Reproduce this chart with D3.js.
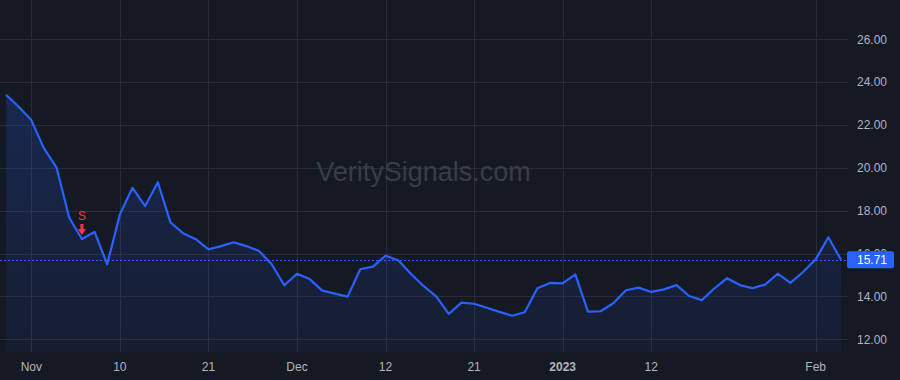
<!DOCTYPE html>
<html>
<head>
<meta charset="utf-8">
<script src="https://cdn.jsdelivr.net/npm/d3@7"></script>
<style>
  html, body { margin: 0; padding: 0; background: #151924; }
  svg { display: block; font-family: "Liberation Sans", Arial, sans-serif; }
</style>
</head>
<body>
<svg id="chart" width="900" height="380"></svg>
<script>
document.addEventListener("DOMContentLoaded", () => {
  "use strict";

  // trading days, Oct 28 2022 .. Feb 3 2023
  const dates = [
    "2022-10-28","2022-10-31",
    "2022-11-01","2022-11-02","2022-11-03","2022-11-04",
    "2022-11-07","2022-11-08","2022-11-09","2022-11-10","2022-11-11",
    "2022-11-14","2022-11-15","2022-11-16","2022-11-17","2022-11-18",
    "2022-11-21","2022-11-22","2022-11-23","2022-11-25",
    "2022-11-28","2022-11-29","2022-11-30",
    "2022-12-01","2022-12-02",
    "2022-12-05","2022-12-06","2022-12-07","2022-12-08","2022-12-09",
    "2022-12-12","2022-12-13","2022-12-14","2022-12-15","2022-12-16",
    "2022-12-19","2022-12-20","2022-12-21","2022-12-22","2022-12-23",
    "2022-12-27","2022-12-28","2022-12-29","2022-12-30",
    "2023-01-03","2023-01-04","2023-01-05","2023-01-06",
    "2023-01-09","2023-01-10","2023-01-11","2023-01-12","2023-01-13",
    "2023-01-17","2023-01-18","2023-01-19","2023-01-20",
    "2023-01-23","2023-01-24","2023-01-25","2023-01-26","2023-01-27",
    "2023-01-30","2023-01-31",
    "2023-02-01","2023-02-02","2023-02-03"
  ];

  const closes = [
    23.41, 22.85,
    22.23, 20.91, 20.01, 17.67,
    16.68, 17.01, 15.50, 17.83, 19.07,
    18.22, 19.33, 17.46, 16.95, 16.67,
    16.20, 16.35, 16.53, 16.35,
    16.12, 15.50, 14.52,
    15.06, 14.81,
    14.27, 14.13, 13.99, 15.27, 15.39,
    15.90, 15.69, 15.06, 14.49, 14.00,
    13.19, 13.71, 13.66, 13.47, 13.28,
    13.10, 13.26, 14.38, 14.63,
    14.61, 15.03, 13.29, 13.31,
    13.68, 14.29, 14.41, 14.21, 14.33,
    14.53, 14.02, 13.83, 14.38,
    14.85, 14.53, 14.39, 14.55, 15.06,
    14.63, 15.14,
    15.73, 16.76, 15.71
  ];

  const xTickDates  = ["2022-11-01","2022-11-10","2022-11-21","2022-12-01","2022-12-12","2022-12-21","2023-01-03","2023-01-12","2023-02-01"];
  const xTickLabels = ["Nov","10","21","Dec","12","21","2023","12","Feb"];
  const yTicks      = [12, 14, 16, 18, 20, 22, 24, 26];

  const sellSignals = [{ date: "2022-11-07", label: "S" }];
  const lastPrice   = 15.71;

  const BG = "#151924", GRID = "#282c37", BLUE = "#2962ff", RED = "#f23645", TXT = "#b2b5be";
  const FONT = '"Liberation Sans", Arial, sans-serif';

  const svg = d3.select("#chart");
  const W = 900, H = 380;
  const plotRight = 848, plotBottom = 352;

  const data = dates.map((d, i) => ({ date: d, close: closes[i] }));

  const x = d3.scalePoint().domain(dates).range([6, 841]);
  const y = d3.scaleLinear().domain([12, 26]).range([339.3, 39.3]);

  svg.append("rect").attr("width", W).attr("height", H).attr("fill", BG);

  // grid
  const grid = svg.append("g");
  grid.selectAll("line.h").data(yTicks).join("line")
    .attr("class", "h")
    .attr("x1", 0).attr("x2", plotRight)
    .attr("y1", d => Math.round(y(d)) + 0.5).attr("y2", d => Math.round(y(d)) + 0.5)
    .attr("stroke", GRID);
  grid.selectAll("line.v").data(xTickDates).join("line")
    .attr("class", "v")
    .attr("x1", d => Math.round(x(d)) + 0.5).attr("x2", d => Math.round(x(d)) + 0.5)
    .attr("y1", 0).attr("y2", plotBottom)
    .attr("stroke", GRID);

  // watermark
  svg.append("text")
    .attr("x", 423.5).attr("y", 181)
    .attr("text-anchor", "middle")
    .attr("fill", "#393d49")
    .style("font-family", FONT)
    .style("font-size", "27px")
    .text("VeritySignals.com");

  // area
  const defs = svg.append("defs");
  const grad = defs.append("linearGradient")
    .attr("id", "areaGrad").attr("x1", 0).attr("y1", 0).attr("x2", 0).attr("y2", 1);
  grad.append("stop").attr("offset", "0%").attr("stop-color", BLUE).attr("stop-opacity", 0.2);
  grad.append("stop").attr("offset", "100%").attr("stop-color", BLUE).attr("stop-opacity", 0.06);

  svg.append("path")
    .datum(data)
    .attr("fill", "url(#areaGrad)")
    .attr("d", d3.area().x(d => x(d.date)).y0(plotBottom).y1(d => y(d.close)));

  // last price dashed line
  svg.append("line")
    .attr("x1", 0).attr("x2", plotRight)
    .attr("y1", Math.round(y(lastPrice)) + 0.5).attr("y2", Math.round(y(lastPrice)) + 0.5)
    .attr("stroke", BLUE).attr("stroke-width", 1).attr("stroke-dasharray", "2,2");

  svg.append("path")
    .datum(data)
    .attr("fill", "none")
    .attr("stroke", BLUE)
    .attr("stroke-width", 2.2)
    .attr("stroke-linejoin", "round")
    .attr("d", d3.line().x(d => x(d.date)).y(d => y(d.close)));

  // sell markers
  const sig = svg.selectAll("g.sig").data(sellSignals).join("g")
    .attr("class", "sig")
    .attr("transform", d => {
      const c = closes[dates.indexOf(d.date)];
      return `translate(${x(d.date)},${y(c) - 4})`;
    });
  sig.append("path")
    .attr("d", "M-1.5,-11 L1.5,-11 L1.5,-6 L4,-6 L0,0 L-4,-6 L-1.5,-6 Z")
    .attr("fill", RED);
  sig.append("text")
    .attr("y", -15)
    .attr("text-anchor", "middle")
    .attr("fill", RED)
    .style("font-family", FONT)
    .style("font-size", "12px")
    .text(d => d.label);

  // y axis labels
  svg.append("g")
    .attr("transform", `translate(887,0)`)
    .selectAll("text").data(yTicks).join("text")
    .attr("y", d => y(d))
    .attr("dy", "0.35em")
    .attr("text-anchor", "end")
    .attr("fill", TXT)
    .style("font-size", "12px")
    .text(d => d3.format(".2f")(d));

  // x axis labels
  svg.append("g")
    .selectAll("text").data(xTickDates).join("text")
    .attr("x", d => x(d))
    .attr("y", 367)
    .attr("dy", "0.35em")
    .attr("text-anchor", "middle")
    .attr("fill", TXT)
    .style("font-size", "12px")
    .style("font-weight", (d, i) => xTickLabels[i] === "2023" ? "bold" : null)
    .text((d, i) => xTickLabels[i]);

  // last price tag
  const tag = svg.append("g").attr("transform", `translate(847,${y(lastPrice)})`);
  tag.append("rect")
    .attr("x", 0).attr("y", -8.5).attr("width", 47).attr("height", 17).attr("rx", 2)
    .attr("fill", BLUE);
  tag.append("text")
    .attr("x", 40).attr("dy", "0.35em")
    .attr("text-anchor", "end")
    .attr("fill", "#fff")
    .style("font-size", "12px")
    .text(d3.format(".2f")(lastPrice));
});
</script>
</body>
</html>
